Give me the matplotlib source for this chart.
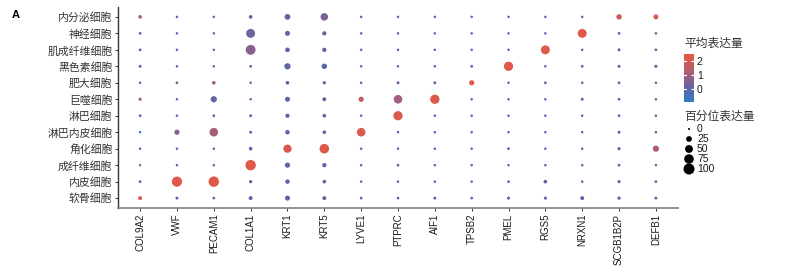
import matplotlib
matplotlib.use("Agg")
import matplotlib.pyplot as plt
import numpy as np
from matplotlib.colors import LinearSegmentedColormap, Normalize
from matplotlib.colorbar import ColorbarBase

plt.rcParams['font.family'] = ['Noto Sans CJK SC', 'DejaVu Sans']

genes = ["COL9A2", "VWF", "PECAM1", "COL1A1", "KRT1", "KRT5", "LYVE1", "PTPRC",
         "AIF1", "TPSB2", "PMEL", "RGS5", "NRXN1", "SCGB1B2P", "DEFB1"]
# top to bottom
cells = ["内分泌细胞", "神经细胞", "肌成纤维细胞", "黑色素细胞", "肥大细胞", "巨噬细胞",
         "淋巴细胞", "淋巴内皮细胞", "角化细胞", "成纤维细胞", "内皮细胞", "软骨细胞"]

# percent expressed per cell type (rows) x gene (cols)
pct = [
    [8, 2, 2, 8, 25, 45, 2, 2, 2, 2, 2, 2, 2, 22, 18],
    [3, 2, 2, 65, 18, 12, 2, 2, 2, 2, 2, 2, 65, 3, 2],
    [3, 2, 2, 80, 15, 12, 2, 2, 2, 2, 2, 65, 2, 4, 3],
    [4, 2, 2, 3, 30, 22, 2, 2, 2, 3, 70, 2, 3, 4, 5],
    [2, 3, 8, 2, 8, 6, 2, 4, 4, 20, 2, 3, 2, 3, 2],
    [5, 2, 30, 2, 18, 10, 20, 60, 70, 2, 2, 2, 4, 3, 2],
    [3, 2, 3, 4, 12, 8, 2, 70, 2, 2, 2, 2, 2, 3, 2],
    [2, 20, 60, 4, 14, 8, 60, 2, 2, 2, 2, 2, 2, 4, 2],
    [2, 2, 2, 8, 55, 75, 2, 2, 2, 2, 3, 2, 2, 5, 30],
    [2, 2, 2, 90, 20, 12, 2, 3, 2, 2, 2, 2, 2, 3, 2],
    [3, 85, 90, 6, 14, 8, 2, 2, 2, 2, 3, 8, 2, 5, 3],
    [10, 4, 3, 10, 18, 10, 3, 3, 4, 3, 5, 5, 10, 6, 4],
]
# average scaled expression
avg = [
    [1.2, -0.2, -0.3, 0.0, 0.1, 0.4, -0.2, -0.2, -0.2, -0.2, -0.2, -0.2, -0.2, 2.0, 2.0],
    [-0.2, -0.2, -0.3, 0.3, 0.0, 0.0, -0.2, -0.2, -0.2, -0.2, -0.2, -0.2, 2.3, -0.1, -0.2],
    [-0.3, -0.2, -0.3, 0.6, 0.0, 0.0, -0.2, -0.2, -0.2, -0.2, -0.2, 2.3, -0.2, -0.1, -0.2],
    [-0.1, -0.2, -0.3, -0.1, 0.0, 0.0, -0.2, -0.2, -0.2, -0.1, 2.3, -0.2, -0.1, -0.1, 0.0],
    [-0.2, 0.5, 1.0, -0.2, 0.0, 0.0, -0.2, -0.1, -0.1, 2.3, -0.2, -0.1, -0.2, -0.1, -0.2],
    [0.9, -0.2, 0.1, -0.2, 0.0, 0.0, 1.6, 1.0, 2.2, -0.2, -0.2, -0.2, -0.1, -0.2, -0.2],
    [-0.2, -0.2, -0.2, -0.1, 0.0, 0.0, -0.2, 2.2, -0.2, -0.2, -0.2, -0.2, -0.2, -0.1, -0.2],
    [-0.6, 0.6, 1.1, -0.1, 0.0, 0.0, 2.2, -0.2, -0.2, -0.2, -0.2, -0.2, -0.2, -0.1, -0.2],
    [-0.3, -0.2, -0.3, 0.0, 2.2, 2.2, -0.2, -0.2, -0.2, -0.2, -0.1, -0.2, -0.2, 0.0, 1.2],
    [0.6, -0.2, -0.3, 2.3, 0.0, 0.0, -0.2, -0.2, -0.2, -0.2, -0.2, -0.2, -0.2, -0.1, -0.2],
    [-0.2, 2.3, 2.3, 0.0, 0.0, 0.0, -0.2, -0.2, -0.2, -0.2, -0.1, 0.0, -0.2, 0.0, -0.1],
    [2.3, -0.1, -0.3, 0.0, 0.0, 0.0, -0.2, -0.1, -0.1, -0.2, -0.1, -0.1, 0.0, 0.0, -0.1],
]
size_breaks = [0, 25, 50, 75, 100]
color_ticks = [0, 1, 2]

vmin, vmax = -0.93, 2.5
def pos(v):
    return (v - vmin) / (vmax - vmin)
cmap = LinearSegmentedColormap.from_list(
    "exp", [(0, "#2f7dc2"), (pos(0), "#5c64a8"), (pos(1.0), "#a35f7e"), (1, "#ea5742")])
norm = Normalize(vmin, vmax)

DPI = 100
def msize(p):
    d = np.sqrt(2.0 ** 2 + (11.0 ** 2 - 2.0 ** 2) * np.asarray(p, float) / 100.0)
    return (d * 72.0 / DPI) ** 2

fig = plt.figure(figsize=(7.98, 2.66), dpi=DPI)
W, H = 798, 266
ax = fig.add_axes([118 / W, (H - 208) / H, (678 - 118) / W, (208 - 7) / H])

n = len(cells)
xs, ys, ss, cs = [], [], [], []
for i, cname in enumerate(cells):
    for j, g in enumerate(genes):
        xs.append(j)
        ys.append(n - 1 - i)
        ss.append(pct[i][j])
        cs.append(avg[i][j])
ax.scatter(xs, ys, s=msize(ss), c=cs, cmap=cmap, norm=norm, linewidths=0, zorder=3)

ax.set_xlim(-0.6, len(genes) - 0.4)
ax.set_ylim(-0.6, n - 0.4)
ax.set_xticks(range(len(genes)))
ax.set_xticklabels(genes, rotation=90, fontsize=7, family=['Liberation Sans', 'DejaVu Sans'],
                   color="#1a1a1a")
ax.set_yticks(range(n))
ax.set_yticklabels(cells[::-1], fontsize=7.8, color="#333333")
ax.tick_params(axis='both', length=2.5, width=0.7, color="#333333", pad=1.5)
for sp in ["top", "right"]:
    ax.spines[sp].set_visible(False)
ax.spines["left"].set_color("#333333")
ax.spines["left"].set_linewidth(1.0)
ax.spines["bottom"].set_color("#8a8a8a")
ax.spines["bottom"].set_linewidth(1.3)

fig.text(16 / W, 1 - 15 / H, "A", fontsize=8, fontweight="bold", ha="center", va="center",
         family=['Liberation Sans', 'DejaVu Sans'])

# colour legend
fig.text(684 / W, 1 - 43 / H, "平均表达量", fontsize=8.5, ha="left", va="center", color="#333333")
cax = fig.add_axes([684 / W, (H - 102) / H, 10 / W, 48 / H])
cb = ColorbarBase(cax, cmap=cmap, norm=norm, ticks=color_ticks)
cb.outline.set_visible(False)
cax.tick_params(length=2, width=0.8, color="white", pad=2, labelsize=7.5, direction="in")
for t in cax.get_yticklabels():
    t.set_family(['Liberation Sans', 'DejaVu Sans'])
    t.set_color("#1a1a1a")
for v in color_ticks:
    cax.plot([0, 0.22], [v, v], color="white", lw=0.8, transform=cax.get_yaxis_transform())
    cax.plot([0.78, 1], [v, v], color="white", lw=0.8, transform=cax.get_yaxis_transform())

# size legend
fig.text(684 / W, 1 - 116 / H, "百分位表达量", fontsize=8.5, ha="left", va="center", color="#333333")
lax = fig.add_axes([680 / W, (H - 175) / H, 40 / W, 52 / H])
lax.set_xlim(680, 720)
lax.set_ylim(175, 123)
lax.axis("off")
ly = [129 + 10 * k for k in range(len(size_breaks))]
lax.scatter([689] * len(size_breaks), ly, s=msize(size_breaks), c="black", linewidths=0)
for yv, b in zip(ly, size_breaks):
    lax.text(697, yv, str(b), fontsize=7.5, va="center", ha="left",
             family=['Liberation Sans', 'DejaVu Sans'], color="#1a1a1a")

fig.savefig("out.png", dpi=DPI)
